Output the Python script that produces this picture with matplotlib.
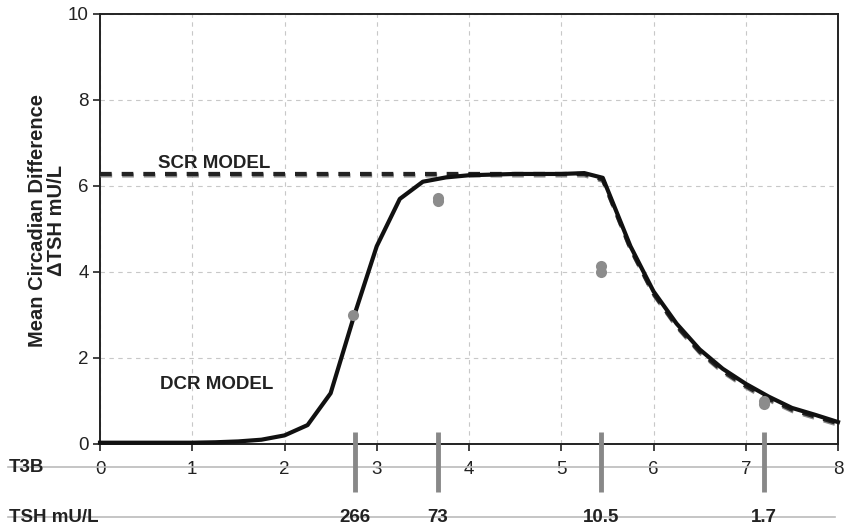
import matplotlib
matplotlib.use("Agg")
import matplotlib.pyplot as plt
import matplotlib.transforms as mtransforms

plt.rcParams['font.family'] = ['Liberation Sans', 'DejaVu Sans']

# DCR model curve (solid)
dcr_x = [0, 0.5, 1.0, 1.25, 1.5, 1.75, 2.0, 2.25, 2.5, 2.75, 3.0, 3.25, 3.5, 3.75,
         4.0, 4.5, 5.0, 5.25, 5.45, 5.75, 6.0, 6.25, 6.5, 6.75, 7.0, 7.25, 7.5, 7.75, 8.0]
dcr_y = [0.03, 0.03, 0.03, 0.04, 0.06, 0.1, 0.2, 0.44, 1.18, 2.95, 4.6, 5.7, 6.1, 6.2,
         6.25, 6.28, 6.28, 6.3, 6.19, 4.6, 3.55, 2.8, 2.2, 1.75, 1.4, 1.1, 0.84, 0.68, 0.51]

# SCR model curve (dashed)
scr_x = [0, 5.25, 5.45, 5.75, 6.0, 6.25, 6.5, 6.75, 7.0, 7.25, 7.5, 7.75, 8.0]
scr_y = [6.28, 6.28, 6.15, 4.55, 3.5, 2.75, 2.15, 1.7, 1.35, 1.05, 0.8, 0.64, 0.48]

# measured points
obs_x = [2.74, 3.66, 3.66, 5.43, 5.43, 7.2, 7.2]
obs_y = [3.0, 5.64, 5.71, 4.0, 4.13, 0.92, 1.0]

# T3B marker positions and TSH labels
tsh_x = [2.76, 3.66, 5.43, 7.2]
tsh_labels = ['266', '73', '10.5', '1.7']

fig = plt.figure(figsize=(8.48, 5.31), dpi=100)
ax = fig.add_axes([100 / 848, 1 - 444 / 531, 738 / 848, 430 / 531])

ax.set_xlim(0, 8)
ax.set_ylim(0, 10)
ax.set_yticks(range(0, 11, 2))
ax.set_xticks(range(0, 9))
ax.tick_params(axis='both', labelsize=13.5, width=1.2, length=5, color='#222222',
               labelcolor='#222222')
ax.tick_params(axis='x', pad=7)
ax.tick_params(axis='y', pad=3)
for s in ax.spines.values():
    s.set_linewidth(1.4)
    s.set_color('#222222')

ax.grid(True, linestyle=(0, (4, 4)), color='#c8c8c8', linewidth=0.8)
ax.set_axisbelow(True)

# SCR dashed line with gray shadow
shadow = mtransforms.offset_copy(ax.transData, fig=fig, x=0.5, y=-1.5, units='dots')
ax.plot(scr_x, scr_y, color='#8c8c8c', linestyle=(0, (2.8, 2.4)), linewidth=3, transform=shadow, zorder=3)
ax.plot(scr_x, scr_y, color='#222222', linestyle=(0, (2.8, 2.4)), linewidth=3, zorder=3)

# DCR solid line
ax.plot(dcr_x, dcr_y, color='#111111', linewidth=3, zorder=4, clip_on=False)

# observations
ax.plot(obs_x, obs_y, 'o', color='#8c8c8c', markersize=8, markeredgewidth=0, zorder=5)

ax.text(0.63, 6.42, 'SCR MODEL', fontsize=13.5, fontweight='bold', color='#222222')
ax.text(0.65, 1.28, 'DCR MODEL', fontsize=13.5, fontweight='bold', color='#222222')

ax.set_ylabel('Mean Circadian Difference\n\u0394TSH mU/L', fontsize=14.5, fontweight='bold',
              linespacing=1.0, color='#222222')
ax.yaxis.label.set_va('center')
ax.yaxis.set_label_coords(-53 / 738, 0.52)

# vertical markers below axis
xt = ax.get_xaxis_transform()
for xv in tsh_x:
    ax.plot([xv, xv], [0.028, -0.112], color='#888888', linewidth=3.5, transform=xt,
            clip_on=False, zorder=6, solid_capstyle='butt')

# row lines and labels
ax.plot([-92 / 738, 1.0], [-23 / 430, -23 / 430], color='#bbbbbb', linewidth=1.2,
        transform=ax.transAxes, clip_on=False, zorder=1)
ax.plot([-92 / 738, 735 / 738], [-73 / 430, -73 / 430], color='#bbbbbb', linewidth=1.2,
        transform=ax.transAxes, clip_on=False, zorder=1)

ax.text(-91 / 738, -23 / 430, 'T3B', transform=ax.transAxes, fontsize=13.5, fontweight='bold',
        ha='left', va='center', color='#222222')
ax.text(-91 / 738, -73 / 430, 'TSH mU/L', transform=ax.transAxes, fontsize=13.5, fontweight='bold',
        ha='left', va='center', color='#222222')
for xv, lab in zip(tsh_x, tsh_labels):
    ax.text(xv, -73 / 430, lab, transform=xt, fontsize=13.5, fontweight='bold',
            ha='center', va='center', color='#222222')

fig.savefig('out.png', dpi=100)
